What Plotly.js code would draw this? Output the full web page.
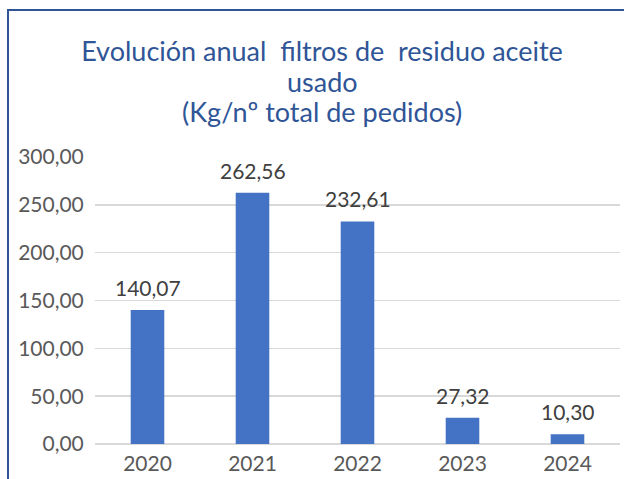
<!DOCTYPE html>
<html>
<head>
<meta charset="utf-8">
<script src="https://cdn.plot.ly/plotly-3.0.1.min.js"></script>
<style>
  html, body { margin: 0; padding: 0; background: #ffffff; }
  #wrap { position: relative; width: 624px; height: 479px; overflow: hidden; }
  #chart { position: absolute; left: 0; top: 0; width: 624px; height: 479px; }
  #frame { position: absolute; left: 7px; top: 9px; width: 700px; height: 600px;
           border: 2px solid #2F5597; pointer-events: none; box-sizing: border-box; }
</style>
</head>
<body>
<div id="wrap">
  <div id="chart"></div>
  <div id="frame"></div>
</div>
<script>
const years = ['2020', '2021', '2022', '2023', '2024'];
const values = [140.07, 262.56, 232.61, 27.32, 10.30];
const yTicks = [0, 50, 100, 150, 200, 250, 300];
const titleLines = ['Evolución anual &nbsp;filtros de &nbsp;residuo aceite', 'usado', '(Kg/nº total de pedidos)'];

const fontFam = 'Lato, "Open Sans", sans-serif';
const titleColor = '#2F5597';

const annotations = years.map((y, i) => ({
  x: i, y: values[i], xref: 'x', yref: 'y',
  text: values[i].toFixed(2).replace('.', ','),
  showarrow: false, yanchor: 'bottom', xanchor: 'center', yshift: 8,
  font: { family: fontFam, size: 21, color: '#404040' }
}));

// title lines 2 and 3 (tight line spacing like the original)
[1, 2].forEach(k => {
  annotations.push({
    text: titleLines[k], showarrow: false,
    xref: 'paper', yref: 'paper',
    x: (322 - 95) / 525, xanchor: 'center',
    y: 1 + (157 - (52 + 30 * k)) / 287, yanchor: 'middle',
    font: { family: fontFam, size: 27, color: titleColor }
  });
});

const data = [{
  type: 'bar',
  x: years,
  y: values,
  marker: { color: '#4472C4' }
}];

const layout = {
  width: 624, height: 479,
  paper_bgcolor: '#ffffff', plot_bgcolor: '#ffffff',
  separators: ',.',
  margin: { l: 95, r: 4, t: 157, b: 35 },
  bargap: 0.68,
  showlegend: false,
  title: {
    text: titleLines[0],
    font: { family: fontFam, size: 27, color: titleColor },
    x: 322 / 624, xref: 'container', xanchor: 'center',
    y: 1 - 52 / 479, yref: 'container', yanchor: 'middle'
  },
  xaxis: {
    type: 'category',
    range: [-0.5, 4.5],
    showgrid: false, zeroline: false, showline: false,
    ticks: 'outside', ticklen: 1, tickcolor: 'rgba(0,0,0,0)',
    tickfont: { family: fontFam, size: 21, color: '#595959' }
  },
  yaxis: {
    range: [0, 300],
    tickvals: yTicks,
    tickformat: '.2f',
    showgrid: true, gridcolor: '#D9D9D9', gridwidth: 1.5,
    zeroline: true, zerolinecolor: '#D9D9D9', zerolinewidth: 1.5,
    showline: false,
    ticks: 'outside', ticklen: 6, tickcolor: 'rgba(0,0,0,0)',
    tickfont: { family: fontFam, size: 21, color: '#595959' }
  },
  annotations: annotations
};

Plotly.newPlot('chart', data, layout, { displayModeBar: false, staticPlot: true });
</script>
</body>
</html>
